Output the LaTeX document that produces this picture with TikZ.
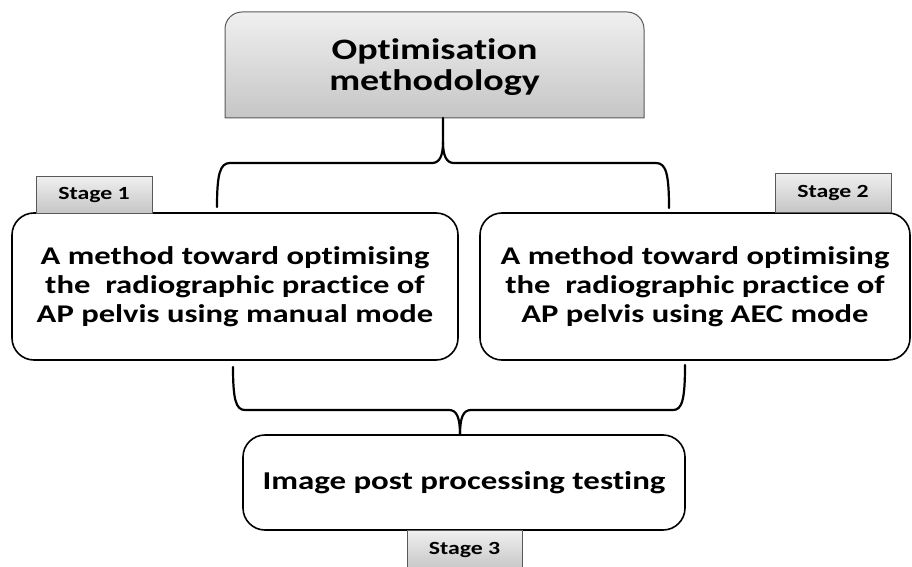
\documentclass[tikz,border=0pt]{standalone}
\usepackage{fontspec}
\setmainfont{Carlito}[Ligatures=NoCommon]
\newfontfamily\widefont{Carlito}[FakeStretch=1.28, Ligatures=NoCommon]
\usetikzlibrary{calc}

\tikzset{
  mainbox/.style={draw=black, line width=1.6pt, rounded corners=22pt, fill=white,
    align=center, inner sep=0pt, font=\widefont\fontsize{25.5}{29}\selectfont\bfseries},
  stagebox/.style={draw=gray!70!black, line width=1pt, top color=gray!12, bottom color=gray!45,
    inner sep=0pt, font=\widefont\fontsize{18.6}{20}\selectfont\bfseries},
  bracket/.style={draw=black, line width=2.2pt, line cap=round, line join=round},
}

\begin{document}
\begin{tikzpicture}[x=1pt, y=1pt]
  \useasboundingbox (0,0) rectangle (912,566);
  \clip (0,0) rectangle (912,566);

  % head box: rounded top, square bottom, grey gradient
  \shade[top color=gray!12, bottom color=gray!45, draw=gray!70!black, line width=1pt]
    (225,448) -- (225,537) arc[start angle=180, end angle=90, radius=17] -- (627,554)
    arc[start angle=90, end angle=0, radius=17] -- (644,448) -- cycle;
  \node[align=center, font=\widefont\fontsize{29.7}{31}\selectfont\bfseries] (top) at (434.5,499)
    {Optimisation\\methodology};

  % method and post-processing boxes
  \node[mainbox, minimum width=446, minimum height=147] (left) at (235,279.5)
    {A method toward optimising\\the\ \ radiographic practice of\\AP pelvis using manual mode};
  \node[mainbox, minimum width=430, minimum height=147] (right) at (695,279.5)
    {A method toward optimising\\the\ \ radiographic practice of\\AP pelvis using AEC mode};
  \node[mainbox, minimum width=442, minimum height=95,
    font=\widefont\fontsize{25.7}{29}\selectfont\bfseries] (bottom) at (464,83.5)
    {Image post processing testing};

  % stage tags
  \node[stagebox, minimum width=116, minimum height=37] (s1) at (94,371.5) {Stage 1};
  \node[stagebox, minimum width=116, minimum height=39] (s2) at (833,373.5) {Stage 2};
  \node[stagebox, minimum width=115, minimum height=40] (s3) at (464.5,16) {Stage 3};

  % upper brace: head box to the two method boxes
  \coordinate (ut) at (443,448);
  \coordinate (ul) at (217,359);
  \coordinate (ur) at (669,358);
  \draw[bracket] (ul) .. controls (217,392) and (220,403) .. (230,403) -- (432,403)
    .. controls (440,403) and (443,411) .. (443,424) -- (ut);
  \draw[bracket] (ur) .. controls (669,392) and (666,403) .. (656,403) -- (454,403)
    .. controls (446,403) and (443,411) .. (443,424);

  % lower brace: the two method boxes to the post-processing box
  \coordinate (bt) at (460,131);
  \coordinate (bl) at (233,199);
  \coordinate (br) at (685,201);
  \draw[bracket] (bl) .. controls (233,166) and (236,156) .. (245,156) -- (449,156)
    .. controls (457,156) and (460,148) .. (bt);
  \draw[bracket] (br) .. controls (685,166) and (682,156) .. (673,156) -- (471,156)
    .. controls (463,156) and (460,148) .. (bt);
\end{tikzpicture}
\end{document}
